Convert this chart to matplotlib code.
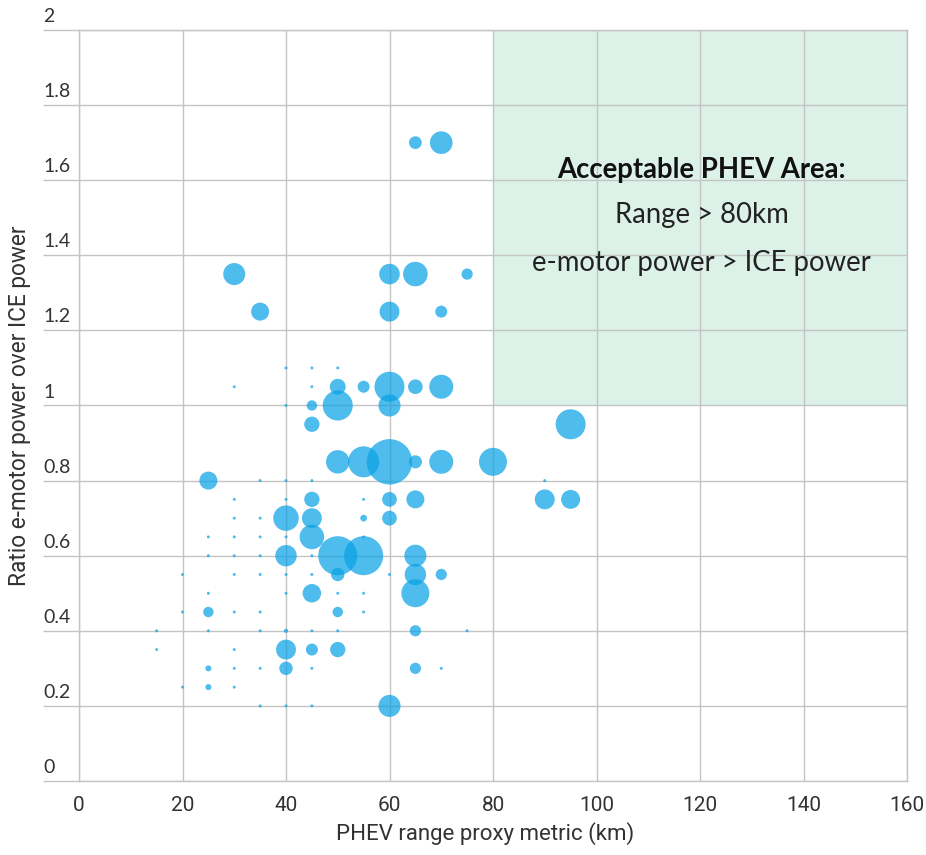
import matplotlib
matplotlib.use("Agg")
import matplotlib.pyplot as plt
import matplotlib.transforms as mtransforms
from matplotlib.patches import Rectangle
import numpy as np

# Bubble data: range proxy (km), e-motor / ICE power ratio, number of models
range_km = [
    65, 70, 30, 35, 60, 65, 75, 60, 70,
    40, 45, 50,
    30, 45, 50, 55, 60, 65, 70,
    40, 45, 50, 60,
    45, 95,
    50, 55, 60, 65, 70, 80,
    25, 35, 40, 45, 90,
    30, 40, 45, 55, 60, 65, 90, 95,
    30, 35, 40, 45, 55, 60,
    25, 30, 35, 40, 45, 55,
    25, 30, 35, 40, 45, 50, 55, 65,
    20, 30, 35, 40, 45, 50, 60, 65, 70,
    25, 40, 45, 50, 55, 65,
    20, 25, 30, 35, 50, 55,
    15, 25, 35, 40, 45, 50, 65, 75,
    15, 30, 40, 45, 50,
    25, 30, 35, 40, 45, 65, 70,
    20, 25, 30,
    35, 40, 45, 60,
]
power_ratio = [
    1.7, 1.7, 1.35, 1.25, 1.35, 1.35, 1.35, 1.25, 1.25,
    1.1, 1.1, 1.1,
    1.05, 1.05, 1.05, 1.05, 1.05, 1.05, 1.05,
    1.0, 1.0, 1.0, 1.0,
    0.95, 0.95,
    0.85, 0.85, 0.85, 0.85, 0.85, 0.85,
    0.8, 0.8, 0.8, 0.8, 0.8,
    0.75, 0.75, 0.75, 0.75, 0.75, 0.75, 0.75, 0.75,
    0.7, 0.7, 0.7, 0.7, 0.7, 0.7,
    0.65, 0.65, 0.65, 0.65, 0.65, 0.65,
    0.6, 0.6, 0.6, 0.6, 0.6, 0.6, 0.6, 0.6,
    0.55, 0.55, 0.55, 0.55, 0.55, 0.55, 0.55, 0.55, 0.55,
    0.5, 0.5, 0.5, 0.5, 0.5, 0.5,
    0.45, 0.45, 0.45, 0.45, 0.45, 0.45,
    0.4, 0.4, 0.4, 0.4, 0.4, 0.4, 0.4, 0.4,
    0.35, 0.35, 0.35, 0.35, 0.35,
    0.3, 0.3, 0.3, 0.3, 0.3, 0.3, 0.3,
    0.25, 0.25, 0.25,
    0.2, 0.2, 0.2, 0.2,
]
model_count = [
    18, 57, 54, 36, 47, 67, 14, 44, 16,
    1, 1, 1,
    1, 1, 28, 16, 100, 24, 64,
    1, 12, 100, 54,
    26, 100,
    61, 107, 229, 19, 64, 87,
    36, 1, 1, 1, 1,
    1, 1, 26, 1, 24, 36, 44, 40,
    1, 1, 72, 44, 5, 24,
    1, 1, 1, 1, 67, 1,
    1, 1, 1, 51, 1, 169, 169, 54,
    1, 1, 1, 1, 1, 20, 1, 51, 14,
    1, 1, 38, 1, 1, 87,
    1, 12, 1, 1, 12, 1,
    1, 1, 1, 2, 1, 1, 14, 1,
    1, 1, 44, 16, 26,
    4, 1, 1, 20, 1, 14, 1,
    1, 4, 1,
    1, 1, 1, 54,
]

x_ticks = [0, 20, 40, 60, 80, 100, 120, 140, 160]
y_ticks = [0, 0.2, 0.4, 0.6, 0.8, 1.0, 1.2, 1.4, 1.6, 1.8, 2.0]
y_tick_labels = ["0", "0.2", "0.4", "0.6", "0.8", "1", "1.2", "1.4", "1.6", "1.8", "2"]

zone_x = (80, 160)
zone_y = (1.0, 2.0)
zone_lines = ["Acceptable PHEV Area:", "Range > 80km", "e-motor power > ICE power"]

W, H, DPI = 926, 855, 100
fig = plt.figure(figsize=(W / DPI, H / DPI), dpi=DPI)
ax = fig.add_axes([79 / W, 1 - 781 / H, (907 - 79) / W, (781 - 30) / H])

narrow = ["Roboto", "DejaVu Sans"]
grid_c = "#c4c4c4"
text_c = "#333333"

ax.set_xlim(0, 160)
ax.set_ylim(0, 2)

# Green "acceptable" zone
ax.add_patch(Rectangle((zone_x[0], zone_y[0]), zone_x[1] - zone_x[0],
                       zone_y[1] - zone_y[0], facecolor="#dcf2e8",
                       edgecolor="none", zorder=0.2))

ax.set_xticks(x_ticks)
ax.set_yticks(y_ticks)
ax.grid(True, color=grid_c, lw=1.0)
ax.set_axisbelow(True)
for s in ax.spines.values():
    s.set_color(grid_c)
    s.set_linewidth(1.0)

# Bubbles: radius in pixels grows with sqrt(count)
px_to_pt = 72 / DPI
radius_px = 1.5 * np.sqrt(np.array(model_count, dtype=float))
sizes = (2 * radius_px * px_to_pt) ** 2
ax.scatter(range_km, power_ratio, s=sizes, color=(12 / 255, 163 / 255, 229 / 255),
           alpha=0.73, linewidths=0, zorder=3)

# X ticks
ax.tick_params(axis="x", length=0, pad=11, labelsize=15, labelcolor=text_c)
for lab in ax.get_xticklabels():
    lab.set_family(narrow)

# Y ticks: gridlines run out to the left, labels sit above each line
ax.tick_params(axis="y", length=36 * px_to_pt, width=1.0, color=grid_c,
               labelleft=False)
lab_tf = mtransforms.offset_copy(ax.get_yaxis_transform(), fig=fig, x=0, y=5, units="dots")
for v, t in zip(y_ticks, y_tick_labels):
    ax.text((43 - 79) / (907 - 79), v, t, transform=lab_tf, ha="left", va="bottom",
            fontsize=14, family=["Lato", "DejaVu Sans"], color=text_c)

ax.set_xlabel("PHEV range proxy metric (km)", fontsize=16, family=narrow,
              color=text_c)
ax.xaxis.set_label_coords(0.49, -(834 - 781) / (781 - 30))
ax.xaxis.label.set_va("center")
ax.set_ylabel("Ratio e-motor power over ICE power", fontsize=16.3, family=narrow,
              color=text_c)
ax.yaxis.set_label_coords(-(79 - 20) / (907 - 79), 0.5)
ax.yaxis.label.set_va("center")

# Zone annotation
cx = 120.3
ax.text(cx, 1.627, zone_lines[0], ha="center", va="center", fontsize=19.8,
        fontweight="bold", family=["Lato", "DejaVu Sans"], color="#111111", zorder=4)
ax.text(cx, 1.507, zone_lines[1], ha="center", va="center", fontsize=19.8,
        family=["Lato", "DejaVu Sans"], color="#222222", zorder=4)
ax.text(cx, 1.379, zone_lines[2], ha="center", va="center", fontsize=19.8,
        family=["Lato", "DejaVu Sans"], color="#222222", zorder=4)

fig.savefig("out.png", dpi=DPI)
